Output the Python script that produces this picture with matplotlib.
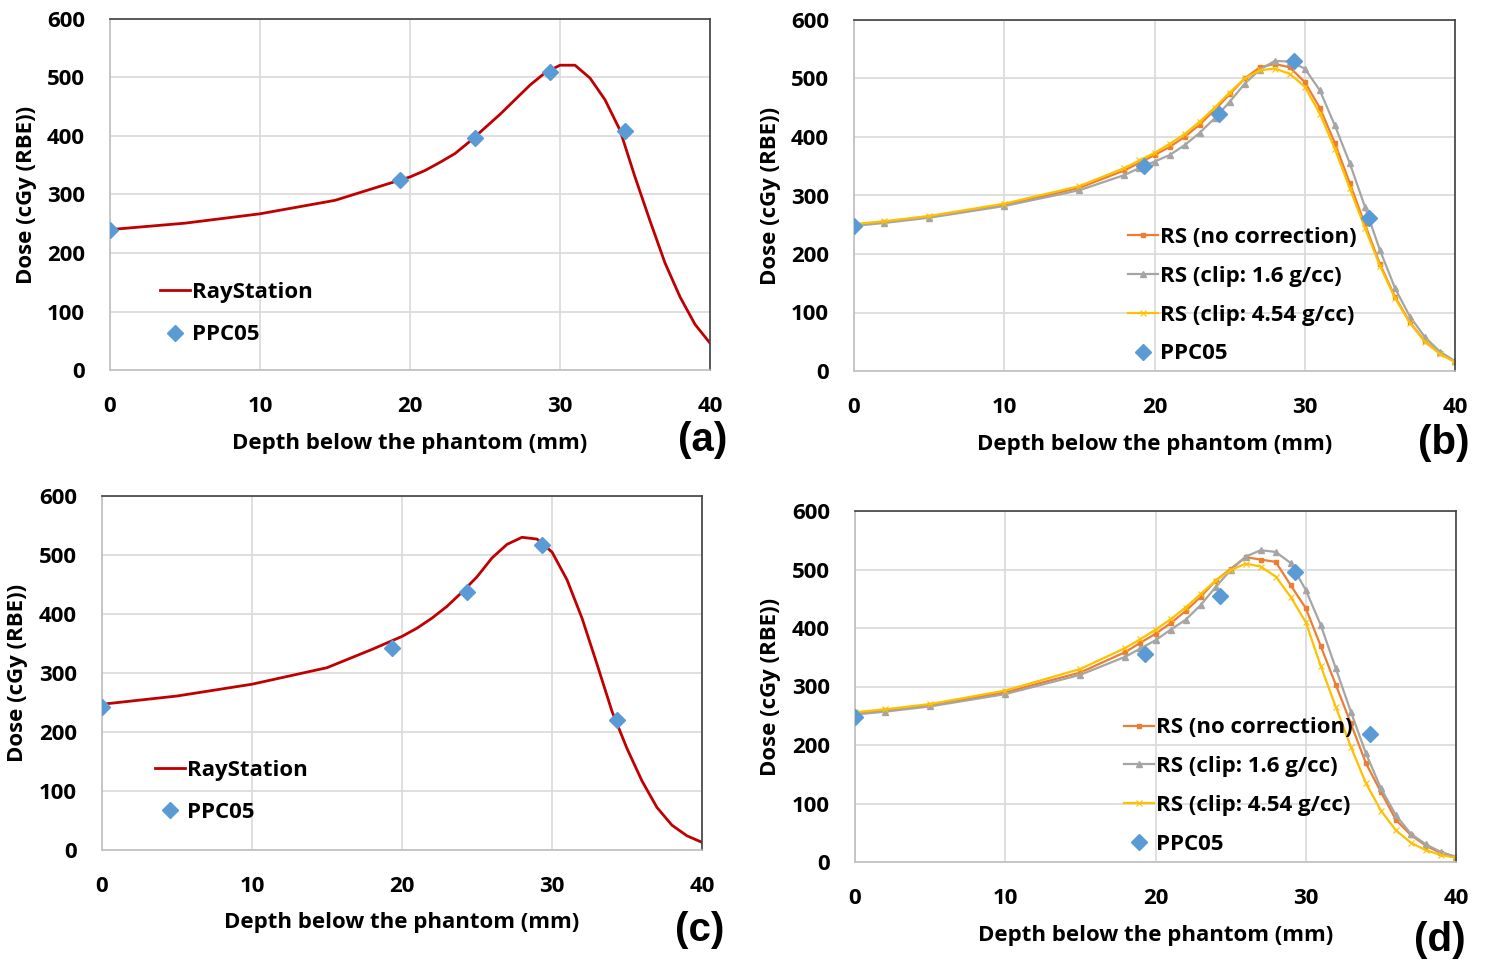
import matplotlib
matplotlib.use('Agg')
import matplotlib.pyplot as plt
import numpy as np

plt.rcParams['font.family'] = ['Open Sans', 'DejaVu Sans']
plt.rcParams['font.weight'] = 'bold'

# depth positions (mm)
depth_rs = [0, 5, 10, 15, 18, 20, 21, 22, 23, 24, 25, 26, 27, 28, 29, 30,
            31, 32, 33, 34, 35, 36, 37, 38, 39, 40]
depth_cmp = [0, 2, 5, 10, 15, 18, 19, 20, 21, 22, 23, 24, 25, 26, 27, 28, 29,
             30, 31, 32, 33, 34, 35, 36, 37, 38, 39, 40]
depth_ppc = [0, 19.3, 24.3, 29.3, 34.3]

# panel (a)
ray_a = [240, 251, 267, 290, 314, 330, 341, 355, 370, 391, 414, 437, 462, 487,
         508, 521, 521, 499, 462, 410, 330, 255, 183, 125, 78, 46]
ppc_a = [240, 325, 397, 510, 409]

# panel (b)
nocorr_b = [250, 255, 264, 284, 313, 343, 356, 369, 383, 400, 421, 446, 473,
            500, 519, 525, 519, 494, 450, 390, 321, 251, 183, 127, 83, 51, 30, 16]
clip16_b = [248, 253, 262, 282, 309, 335, 347, 358, 369, 386, 407, 432, 460,
            491, 515, 530, 529, 517, 480, 420, 355, 281, 207, 142, 93, 58, 33, 17]
clip454_b = [251, 256, 265, 286, 316, 347, 360, 373, 388, 405, 426, 450, 476,
             500, 514, 517, 508, 486, 440, 380, 312, 245, 180, 125, 82, 50, 29, 15]
ppc_b = [248, 350, 440, 530, 261]

# panel (c)
ray_c = [247, 261, 281, 309, 340, 362, 376, 393, 413, 437, 463, 495, 518, 530,
         527, 505, 458, 393, 315, 235, 172, 117, 72, 42, 24, 13]
ppc_c = [242, 342, 437, 517, 220]

# panel (d)
nocorr_d = [254, 259, 268, 290, 324, 359, 375, 390, 408, 429, 453, 481, 501,
            521, 517, 513, 473, 434, 369, 303, 237, 169, 120, 72, 46, 28, 15, 8]
clip16_d = [252, 257, 266, 287, 320, 351, 365, 379, 397, 414, 439, 470, 499,
            522, 533, 530, 511, 465, 405, 331, 257, 186, 126, 80, 48, 30, 17, 9]
clip454_d = [256, 261, 270, 293, 330, 366, 381, 397, 415, 435, 458, 481, 499,
             510, 505, 488, 453, 410, 335, 265, 197, 135, 88, 54, 33, 20, 12, 7]
ppc_d = [248, 356, 455, 496, 218]

RED = '#C00000'
ORANGE = '#ED7D31'
GRAY = '#A5A5A5'
YELLOW = '#FFC000'
BLUE = '#5B9BD5'
FS = 16

W, H = 1486, 964
fig = plt.figure(figsize=(W / 100, H / 100), dpi=100)


def make_ax(left, top, right, bottom):
    ax = fig.add_axes([left / W, 1 - bottom / H, (right - left) / W, (bottom - top) / H])
    ax.set_xlim(0, 40)
    ax.set_ylim(0, 600)
    ax.set_xticks(np.arange(0, 41, 10))
    ax.set_yticks(np.arange(0, 601, 100))
    ax.grid(True, color='#d9d9d9', linewidth=1.2)
    ax.set_axisbelow(True)
    ax.tick_params(length=0, labelsize=FS)
    ax.tick_params(axis='x', pad=18.5)
    ax.tick_params(axis='y', pad=18)
    for lab in ax.get_xticklabels() + ax.get_yticklabels():
        lab.set_fontweight('bold')
    ax.spines['left'].set_color('#bfbfbf')
    ax.spines['bottom'].set_color('#bfbfbf')
    ax.spines['top'].set_color('#404040')
    ax.spines['right'].set_color('#404040')
    for s in ax.spines.values():
        s.set_linewidth(1.2)
    ax.set_xlabel('Depth below the phantom (mm)', fontsize=FS, fontweight='bold')
    ax.set_ylabel('Dose (cGy (RBE))', fontsize=FS, fontweight='bold')
    return ax


def simple_panel(ax, ray, ppc, leg_xy):
    ax.plot(depth_rs, ray, color=RED, linewidth=2, label='RayStation')
    ax.plot(depth_ppc, ppc, linestyle='none', marker='D', markersize=8,
            color=BLUE, label='PPC05', zorder=5)
    ax.legend(loc='upper left', bbox_to_anchor=leg_xy, frameon=False,
              borderaxespad=0, borderpad=0, handlelength=1.35, handletextpad=0.1,
              labelspacing=0.95, prop={'weight': 'bold', 'size': FS})


def compare_panel(ax, nocorr, clip16, clip454, ppc, leg_xy):
    ax.plot(depth_cmp, nocorr, color=ORANGE, linewidth=1.6, marker='s',
            markersize=3.5, label='RS (no correction)')
    ax.plot(depth_cmp, clip16, color=GRAY, linewidth=1.6, marker='^',
            markersize=4, label='RS (clip: 1.6 g/cc)')
    ax.plot(depth_cmp, clip454, color=YELLOW, linewidth=1.6, marker='x',
            markersize=4, markeredgewidth=0.8, label='RS (clip: 4.54 g/cc)')
    ax.plot(depth_ppc, ppc, linestyle='none', marker='D', markersize=8,
            color=BLUE, label='PPC05', zorder=5)
    ax.legend(loc='upper left', bbox_to_anchor=leg_xy, frameon=False,
              borderaxespad=0, borderpad=0, handlelength=1.35, handletextpad=0.1,
              labelspacing=0.8, prop={'weight': 'bold', 'size': FS})


ax_a = make_ax(110, 19, 710, 370)
simple_panel(ax_a, ray_a, ppc_a, (0.083, 0.25))
ax_a.yaxis.set_label_coords(-0.122, 0.5)
ax_a.xaxis.set_label_coords(0.5, -0.179)

ax_b = make_ax(854, 20, 1455, 371)
compare_panel(ax_b, nocorr_b, clip16_b, clip454_b, ppc_b, (0.456, 0.41))
ax_b.yaxis.set_label_coords(-0.121, 0.5)
ax_b.xaxis.set_label_coords(0.5, -0.179)

ax_c = make_ax(102, 496, 702, 850)
simple_panel(ax_c, ray_c, ppc_c, (0.088, 0.254))
ax_c.yaxis.set_label_coords(-0.123, 0.5)
ax_c.xaxis.set_label_coords(0.5, -0.174)

ax_d = make_ax(855, 511, 1456, 862)
compare_panel(ax_d, nocorr_d, clip16_d, clip454_d, ppc_d, (0.448, 0.412))
ax_d.yaxis.set_label_coords(-0.123, 0.5)
ax_d.xaxis.set_label_coords(0.5, -0.179)

panel_font = ['Liberation Sans', 'DejaVu Sans']
fig.text(703 / W, 1 - 440 / H, '(a)', fontsize=29, fontweight='bold',
         family=panel_font, ha='center', va='center')
fig.text(1444 / W, 1 - 443 / H, '(b)', fontsize=29, fontweight='bold',
         family=panel_font, ha='center', va='center')
fig.text(700 / W, 1 - 930 / H, '(c)', fontsize=29, fontweight='bold',
         family=panel_font, ha='center', va='center')
fig.text(1440 / W, 1 - 940 / H, '(d)', fontsize=29, fontweight='bold',
         family=panel_font, ha='center', va='center')

fig.savefig('out.png', dpi=100)
